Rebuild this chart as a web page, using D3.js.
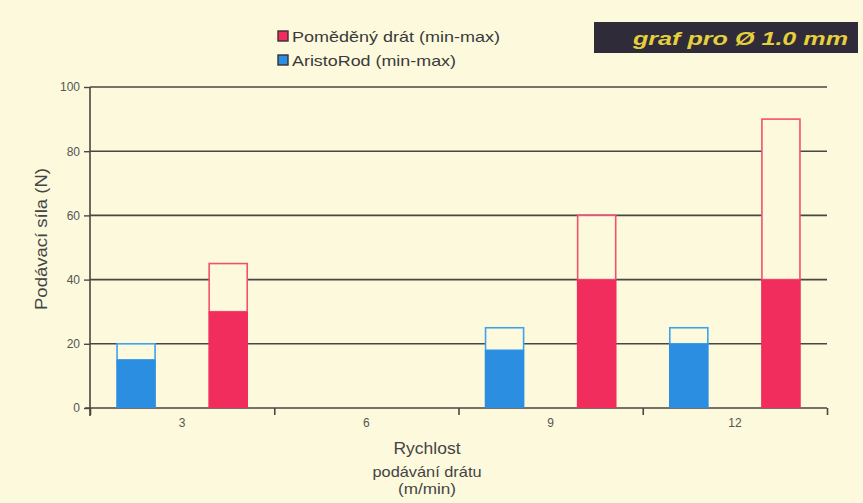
<!DOCTYPE html>
<html>
<head>
<meta charset="utf-8">
<script src="https://cdn.jsdelivr.net/npm/d3@7"></script>
<style>
  body { margin: 0; background: #fcf9dc; }
  svg { display: block; font-family: "Liberation Sans", Arial, sans-serif; }
</style>
</head>
<body>
<script>
// data
const speeds = ['3', '6', '9', '12'];
const seriesNames = ['AristoRod (min-max)', 'Poměděný drát (min-max)'];
const aristoMin = [15, null, 18, 20];
const aristoMax = [20, null, 25, 25];
const copperMin = [30, null, 40, 40];
const copperMax = [45, null, 60, 90];
const yTicks = [0, 20, 40, 60, 80, 100];

const svgWidth = 863, svgHeight = 503;
const margin = { top: 87, right: 36, bottom: 95, left: 90 };
const width = svgWidth - margin.left - margin.right;
const height = svgHeight - margin.top - margin.bottom;

const fills = { aristo: '#2b8ee0', copper: '#f02d5c' };
const strokes = { aristo: '#3fa2ec', copper: '#f2506f' };

const svg = d3.select('body').append('svg')
  .attr('width', svgWidth)
  .attr('height', svgHeight);

svg.append('rect')
  .attr('width', svgWidth).attr('height', svgHeight)
  .attr('fill', '#fcf9dc');

const g = svg.append('g')
  .attr('transform', 'translate(' + margin.left + ',' + margin.top + ')');

const x0 = d3.scaleBand().domain(speeds).range([0, width]);
const x1 = d3.scaleBand().domain(['aristo', 'copper'])
  .range([0, x0.bandwidth()])
  .paddingInner(0.587).paddingOuter(0.2935);
const y = d3.scaleLinear().domain([0, 100]).range([height, 0]);

// gridlines
g.selectAll('.grid')
  .data(yTicks.filter(d => d > 0))
  .enter().append('line')
  .attr('x1', 0).attr('x2', width)
  .attr('y1', d => y(d)).attr('y2', d => y(d))
  .attr('stroke', '#4a4642').attr('stroke-width', 1.6);

// y axis
const yAxis = g.append('g')
  .call(d3.axisLeft(y).tickValues(yTicks).tickSize(6).tickPadding(4));
yAxis.select('.domain').attr('stroke', '#4a4642').attr('stroke-width', 1.6)
  .attr('d', 'M0,0V' + (height + 8));
yAxis.selectAll('.tick line').attr('stroke', '#4a4642').attr('stroke-width', 1.4);
yAxis.selectAll('.tick text').attr('fill', '#555').style('font-size', '12px');

// x axis: ticks on category boundaries, labels in band centres
const xEdge = d3.scaleLinear().domain([0, speeds.length]).range([0, width]);
const xAxis = g.append('g')
  .attr('transform', 'translate(0,' + height + ')')
  .call(d3.axisBottom(xEdge).tickValues(d3.range(speeds.length + 1)).tickSize(7).tickFormat(''));
xAxis.select('.domain').attr('stroke', '#4a4642').attr('stroke-width', 1.6)
  .attr('d', 'M-5,0H' + width);
xAxis.selectAll('.tick line').attr('stroke', '#4a4642').attr('stroke-width', 1.6);

const xLabels = g.append('g')
  .attr('transform', 'translate(0,' + height + ')')
  .call(d3.axisBottom(x0).tickSize(0).tickPadding(10));
xLabels.select('.domain').remove();
xLabels.selectAll('text').attr('fill', '#555').style('font-size', '12px');

// bars: outlined min-max range over filled min part
const bars = [
  { key: 'aristo', min: aristoMin, max: aristoMax },
  { key: 'copper', min: copperMin, max: copperMax }
];
bars.forEach(s => {
  const rows = speeds.map((c, i) => ({ c, min: s.min[i], max: s.max[i] }))
    .filter(d => d.min !== null);
  g.selectAll('.range-' + s.key)
    .data(rows).enter().append('rect')
    .attr('x', d => x0(d.c) + x1(s.key))
    .attr('y', d => y(d.max))
    .attr('width', x1.bandwidth())
    .attr('height', d => y(d.min) - y(d.max))
    .attr('fill', '#fcf9dc')
    .attr('stroke', strokes[s.key]).attr('stroke-width', 1.6);
  g.selectAll('.fill-' + s.key)
    .data(rows).enter().append('rect')
    .attr('x', d => x0(d.c) + x1(s.key) - 0.8)
    .attr('y', d => y(d.min))
    .attr('width', x1.bandwidth() + 1.6)
    .attr('height', d => y(0) - y(d.min))
    .attr('fill', fills[s.key]);
});

// legend
const legend = svg.append('g');
[{ key: 'copper', name: seriesNames[1], y: 31, w: 208 }, { key: 'aristo', name: seriesNames[0], y: 55, w: 164 }]
  .forEach(d => {
    legend.append('rect')
      .attr('x', 278).attr('y', d.y).attr('width', 10).attr('height', 10)
      .attr('fill', fills[d.key]).attr('stroke', '#3a2f35').attr('stroke-width', 1.4);
    legend.append('text')
      .attr('x', 292).attr('y', d.y + 10.5)
      .attr('fill', '#3a3a3a').style('font-size', '15px')
      .attr('textLength', d.w).attr('lengthAdjust', 'spacingAndGlyphs')
      .text(d.name);
  });

// title box
svg.append('rect')
  .attr('x', 594).attr('y', 22).attr('width', 264).attr('height', 31)
  .attr('fill', '#2f2b38');
svg.append('text')
  .attr('x', 633).attr('y', 45)
  .attr('fill', '#e6cf3c')
  .style('font-size', '19px').style('font-style', 'italic').style('font-weight', 'bold')
  .attr('textLength', 215).attr('lengthAdjust', 'spacingAndGlyphs')
  .text('graf pro Ø 1.0 mm');

// axis titles
svg.append('text')
  .attr('transform', 'translate(47,239) rotate(-90)')
  .attr('text-anchor', 'middle')
  .attr('fill', '#444').style('font-size', '17px')
  .attr('textLength', 142).attr('lengthAdjust', 'spacingAndGlyphs')
  .text('Podávací síla (N)');

const xTitle = [
  { text: 'Rychlost', y: 454, size: 16, w: 67 },
  { text: 'podávání drátu', y: 477, size: 15, w: 109 },
  { text: '(m/min)', y: 494, size: 15, w: 58 }
];
xTitle.forEach(d => {
  svg.append('text')
    .attr('x', 427).attr('y', d.y)
    .attr('text-anchor', 'middle').attr('fill', '#444')
    .style('font-size', d.size + 'px')
    .attr('textLength', d.w).attr('lengthAdjust', 'spacingAndGlyphs')
    .text(d.text);
});
</script>
</body>
</html>
